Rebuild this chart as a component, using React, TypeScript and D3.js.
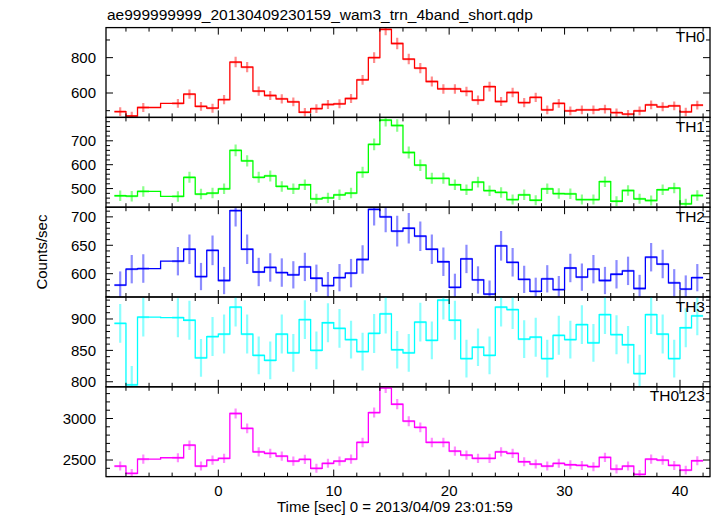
import React from 'react';
import * as d3 from 'd3';

const TITLE = 'ae999999999_20130409230159_wam3_trn_4band_short.qdp';
const X_TITLE = 'Time [sec] 0 = 2013/04/09 23:01:59';
const Y_TITLE = 'Counts/sec';

const TIME = [
  -8.5, -7.5, -6.5, -3.5, -2.5, -1.5, -0.5, 0.5, 1.5, 2.5, 3.5, 4.5, 5.5, 6.5, 7.5, 8.5,
  9.5, 10.5, 11.5, 12.5, 13.5, 14.5, 15.5, 16.5, 17.5, 18.5, 19.5, 20.5, 21.5, 22.5, 23.5,
  24.5, 25.5, 26.5, 27.5, 28.5, 29.5, 30.5, 31.5, 32.5, 33.5, 34.5, 35.5, 36.5, 37.5, 38.5,
  39.5, 40.5, 41.5,
];

const TH0 = [
  495, 470, 518, 541, 594, 524, 514, 563, 775, 746, 611, 586, 567, 550, 491, 512,
  535, 539, 569, 674, 800, 960, 880, 792, 741, 665, 623, 623, 609, 560, 636,
  552, 603, 546, 575, 505, 541, 499, 505, 505, 509, 489, 480, 499, 533, 522,
  527, 493, 531,
];
const TH0_ERR = [
  25, 24, 25, 25, 26, 25, 25, 26, 30, 29, 26, 26, 26, 25, 24, 25,
  25, 25, 26, 28, 30, 33, 32, 30, 29, 28, 27, 27, 27, 26, 27,
  26, 27, 26, 26, 25, 25, 25, 25, 25, 25, 24, 24, 25, 25, 25,
  25, 24, 25,
];

const TH1 = [
  470, 468, 488, 467, 547, 477, 481, 499, 660, 616, 547, 553, 509, 499, 516, 457,
  461, 474, 481, 568, 685, 787, 764, 651, 598, 543, 543, 516, 495, 527, 491,
  484, 454, 474, 451, 499, 479, 478, 454, 454, 529, 447, 492, 457, 450, 495,
  502, 436, 471,
];
const TH1_ERR = [
  22, 22, 22, 22, 23, 22, 22, 22, 25, 24, 23, 23, 22, 22, 22, 21,
  21, 22, 22, 23, 25, 27, 26, 25, 24, 23, 23, 22, 22, 22, 22,
  22, 21, 22, 21, 22, 22, 22, 21, 21, 22, 21, 22, 21, 21, 22,
  22, 21, 22,
];

const TH2 = [
  580, 608, 609, 622, 643, 595, 641, 588, 711, 643, 603, 611, 602, 598, 612, 592,
  579, 593, 601, 625, 713, 700, 675, 680, 666, 643, 621, 576, 626, 589, 564,
  649, 620, 590, 569, 591, 572, 610, 594, 608, 588, 599, 605, 574, 629, 617,
  584, 573, 593,
];
const TH2_ERR = [
  24, 25, 25, 25, 26, 24, 26, 24, 28, 26, 25, 25, 25, 24, 25, 24,
  24, 24, 25, 25, 28, 27, 27, 27, 26, 26, 25, 24, 25, 24, 24,
  26, 25, 24, 24, 24, 24, 25, 24, 25, 24, 25, 25, 24, 25, 25,
  24, 24, 24,
];

const TH3 = [
  893, 795, 903, 902, 898, 838, 872, 876, 919, 876, 842, 834, 876, 846, 899, 850,
  894, 885, 867, 848, 877, 908, 851, 846, 895, 866, 930, 898, 837, 855, 842,
  919, 915, 868, 871, 837, 874, 867, 891, 862, 907, 875, 859, 813, 907, 876,
  837, 886, 905,
];
const TH3_ERR = [
  31, 30, 31, 31, 31, 30, 31, 31, 31, 31, 30, 30, 31, 30, 31, 30,
  31, 31, 30, 30, 31, 31, 30, 30, 31, 30, 31, 31, 30, 30, 30,
  31, 31, 30, 31, 30, 31, 30, 31, 30, 31, 31, 30, 30, 31, 31,
  30, 31, 31,
];

const TH0123 = [
  2427, 2340, 2511, 2527, 2679, 2427, 2499, 2520, 3060, 2880, 2599, 2580, 2547, 2487, 2507, 2400,
  2460, 2487, 2511, 2712, 3072, 3370, 3172, 2968, 2892, 2712, 2712, 2607, 2559, 2520, 2520,
  2599, 2580, 2479, 2451, 2427, 2460, 2443, 2435, 2419, 2532, 2391, 2427, 2328, 2511, 2499,
  2435, 2379, 2491,
];
const TH0123_ERR = [
  54, 53, 55, 55, 57, 54, 55, 55, 61, 59, 56, 56, 55, 55, 55, 54,
  54, 55, 55, 57, 61, 64, 62, 60, 59, 57, 57, 56, 56, 55, 55,
  56, 56, 55, 54, 54, 54, 54, 54, 54, 55, 54, 54, 53, 55, 55,
  54, 53, 55,
];

const PANEL_NAMES = ['TH0', 'TH1', 'TH2', 'TH3', 'TH0123'];
const PANEL_VALUES = [TH0, TH1, TH2, TH3, TH0123];
const PANEL_ERRORS = [TH0_ERR, TH1_ERR, TH2_ERR, TH3_ERR, TH0123_ERR];
const PANEL_COLORS = ['#ff0000', '#00ff00', '#0000ff', '#00ffff', '#ff00ff'];
const Y_DOMAINS = [[462, 970], [422, 798], [559, 717], [792, 935], [2300, 3382]];
const Y_MAJOR_TICKS = [[600, 800], [500, 600, 700], [600, 650, 700], [800, 850, 900], [2500, 3000]];
const Y_MINOR_STEP = [100, 20, 10, 10, 100];
const X_DOMAIN = [-9.73, 42.6];
const X_MAJOR_TICKS = [0, 10, 20, 30, 40];
const X_MINOR_STEP = 2;

const W = 717;
const H = 516;
const LEFT = 106;
const RIGHT = 710;
const TOP = 27.6;
const PANEL_H = 89.8;
const FONT = '"Liberation Sans", Arial, Helvetica, sans-serif';

function minorTicks(domain: number[], step: number) {
  const out: number[] = [];
  const start = Math.ceil(domain[0] / step) * step;
  for (let v = start; v <= domain[1] + 1e-9; v += step) out.push(Math.round(v * 1000) / 1000);
  return out;
}

function stepPoints(t: number[], v: number[]) {
  const edges: number[] = [t[0] - 0.5];
  for (let i = 1; i < t.length; i++) {
    if (Math.abs(t[i] - t[i - 1] - 1) < 1e-6) edges.push(t[i] - 0.5);
    else edges.push((t[i] + t[i - 1]) / 2);
  }
  edges.push(t[t.length - 1] + 0.5);
  const pts: [number, number][] = [];
  for (let i = 0; i < t.length; i++) {
    pts.push([edges[i], v[i]]);
    pts.push([edges[i + 1], v[i]]);
  }
  return pts;
}

function Panel({ idx }: { idx: number }) {
  const top = TOP + idx * PANEL_H;
  const bottom = top + PANEL_H;
  const x = d3.scaleLinear().domain(X_DOMAIN).range([LEFT, RIGHT]);
  const y = d3.scaleLinear().domain(Y_DOMAINS[idx]).range([bottom, top]);
  const vals = PANEL_VALUES[idx];
  const errs = PANEL_ERRORS[idx];
  const color = PANEL_COLORS[idx];
  const line = d3
    .line<[number, number]>()
    .x((d) => x(d[0]))
    .y((d) => y(d[1]));
  const path = line(stepPoints(TIME, vals)) || '';
  const clipId = `clip-${idx}`;
  const xMinor = minorTicks(X_DOMAIN, X_MINOR_STEP).filter((v) => !X_MAJOR_TICKS.includes(v));
  const yMajor = Y_MAJOR_TICKS[idx];
  const yMinor = minorTicks(Y_DOMAINS[idx], Y_MINOR_STEP[idx]).filter((v) => !yMajor.includes(v));
  const MAJ = 7;
  const MIN = 4;
  const isLast = idx === PANEL_NAMES.length - 1;
  return (
    <g>
      <defs>
        <clipPath id={clipId}>
          <rect x={LEFT} y={top} width={RIGHT - LEFT} height={PANEL_H} />
        </clipPath>
      </defs>
      <g clipPath={`url(#${clipId})`}>
        {TIME.map((t, i) => (
          <g key={i} stroke={color} strokeOpacity={0.45} strokeWidth={2.2}>
            <line x1={x(t - 0.5)} x2={x(t + 0.5)} y1={y(vals[i])} y2={y(vals[i])} />
            <line x1={x(t)} x2={x(t)} y1={y(vals[i] - errs[i])} y2={y(vals[i] + errs[i])} />
          </g>
        ))}
        <path d={path} fill="none" stroke={color} strokeWidth={1.3} />
      </g>
      <g stroke="#000" strokeWidth={1}>
        {X_MAJOR_TICKS.map((v) => (
          <g key={`xm${v}`}>
            <line x1={x(v)} x2={x(v)} y1={top} y2={top + MAJ} />
            <line x1={x(v)} x2={x(v)} y1={bottom} y2={bottom - MAJ} />
          </g>
        ))}
        {xMinor.map((v) => (
          <g key={`xn${v}`}>
            <line x1={x(v)} x2={x(v)} y1={top} y2={top + MIN} />
            <line x1={x(v)} x2={x(v)} y1={bottom} y2={bottom - MIN} />
          </g>
        ))}
        {yMajor.map((v) => (
          <g key={`ym${v}`}>
            <line x1={LEFT} x2={LEFT + MAJ} y1={y(v)} y2={y(v)} />
            <line x1={RIGHT} x2={RIGHT - MAJ} y1={y(v)} y2={y(v)} />
          </g>
        ))}
        {yMinor.map((v) => (
          <g key={`yn${v}`}>
            <line x1={LEFT} x2={LEFT + MIN} y1={y(v)} y2={y(v)} />
            <line x1={RIGHT} x2={RIGHT - MIN} y1={y(v)} y2={y(v)} />
          </g>
        ))}
      </g>
      <rect x={LEFT} y={top} width={RIGHT - LEFT} height={PANEL_H} fill="none" stroke="#000" strokeWidth={1.3} />
      {yMajor.map((v) => (
        <text key={`yl${v}`} x={96} y={y(v)} dy="0.36em" textAnchor="end" fontSize={15} fontFamily={FONT} fill="#000">
          {v}
        </text>
      ))}
      <text x={705} y={top + 14.5} textAnchor="end" fontSize={15.5} fontFamily={FONT} fill="#000">
        {PANEL_NAMES[idx]}
      </text>
      {isLast &&
        X_MAJOR_TICKS.map((v) => (
          <text key={`xl${v}`} x={x(v)} y={bottom + 19} textAnchor="middle" fontSize={15} fontFamily={FONT} fill="#000">
            {v}
          </text>
        ))}
    </g>
  );
}

export default function App() {
  return (
    <svg width={W} height={H} style={{ position: 'absolute', left: 0, top: 0, background: '#fff' }}>
      <rect x={0} y={0} width={W} height={H} fill="#fff" />
      <text x={107} y={19.5} fontSize={15.5} fontFamily={FONT} fill="#000">
        {TITLE}
      </text>
      {PANEL_NAMES.map((_, i) => (
        <Panel key={i} idx={i} />
      ))}
      <text x={277} y={512} fontSize={15} fontFamily={FONT} fill="#000">
        {X_TITLE}
      </text>
      <text
        transform={`translate(47, ${TOP + (PANEL_H * 5) / 2}) rotate(-90)`}
        textAnchor="middle"
        fontSize={15}
        fontFamily={FONT}
        fill="#000"
      >
        {Y_TITLE}
      </text>
    </svg>
  );
}
